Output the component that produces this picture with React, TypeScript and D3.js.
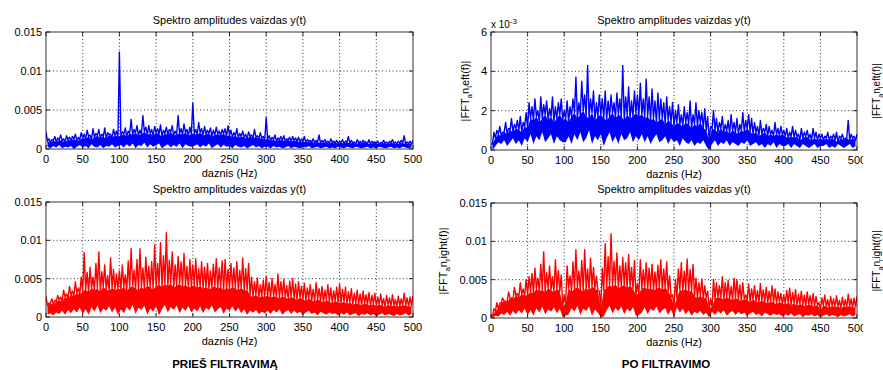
import React from "react";
import * as d3 from "d3";

// Spectrum amplitudes, in units of 1e-3.
// Peaks: local maxima at 0,4,8,...,500 Hz.
// Cores: top of the dense band at 2,6,...,498 Hz.  Floors: bottom of the dense band at 2,6,...,498 Hz.
const tlPeaks = [
  2.2,1.3,1.2,1.6,1.4,1.8,1.3,1.7,1.5,1.6,1.9,1.5,2.1,
  1.9,2.4,1.8,2.6,2.0,2.5,1.9,2.7,2.1,1.9,2.5,2.3,
  12.4,
  2.2,2.7,2.3,3.8,2.5,3.0,2.4,4.3,2.8,3.0,2.5,2.9,
  2.6,3.1,2.4,2.8,2.5,3.0,2.3,4.3,2.6,3.2,2.5,2.8,
  5.9,
  2.5,3.4,2.6,2.9,2.4,2.7,2.4,2.8,2.3,2.5,2.6,3.0,
  2.4,2.1,2.6,2.0,2.3,1.9,2.2,1.8,2.5,1.7,2.1,1.6,
  4.0,
  1.7,1.5,1.8,1.4,1.6,1.7,1.3,1.5,1.6,1.4,1.5,1.3,
  1.6,1.2,1.1,1.3,1.1,1.8,1.1,1.2,1.0,1.3,1.0,1.1,
  1.0,1.2,1.0,1.6,1.1,0.9,1.2,1.0,1.1,0.9,1.2,1.0,0.9,
  1.0,0.8,1.1,0.9,1.0,1.2,0.9,1.0,1.1,1.7,0.9,1.0,1.1,
];
const tlCores = [
  1.0,0.8,1.1,0.9,1.2,1.0,0.9,1.2,1.1,1.3,1.0,1.2,1.4,1.3,1.6,1.2,1.5,1.7,1.4,1.6,1.3,1.8,1.5,1.7,1.6,
  1.7,1.9,1.6,2.0,1.8,2.1,1.7,1.9,2.2,1.8,2.0,1.7,2.1,1.9,1.6,2.0,1.8,2.2,1.7,1.9,2.0,1.8,2.1,1.7,1.9,
  2.0,1.8,2.1,1.7,1.9,2.0,1.6,1.8,1.9,1.7,2.0,1.6,1.8,1.5,1.7,1.4,1.6,1.5,1.3,1.6,1.4,1.5,1.3,1.4,1.2,
  1.3,1.1,1.2,1.0,1.2,1.1,1.0,1.2,0.9,1.1,1.0,0.9,1.0,0.8,1.0,0.9,0.8,0.9,0.7,0.9,0.8,0.7,0.9,0.8,0.7,
  0.8,0.7,0.9,0.7,0.8,0.6,0.8,0.7,0.9,0.7,0.6,0.8,0.7,0.6,0.8,0.7,0.6,0.8,0.7,0.6,0.7,0.8,0.6,0.7,0.6,
];
const tlFloors = [
  0.3,0.1,0.4,0.2,0.5,0.1,0.3,0.2,0.4,0.0,0.3,0.5,0.2,0.4,0.1,0.6,0.3,0.2,0.5,0.1,0.4,0.3,0.6,0.2,0.4,
  0.5,0.2,0.6,0.3,0.7,0.1,0.5,0.4,0.8,0.2,0.6,0.3,0.5,0.7,0.1,0.4,0.6,0.2,0.5,0.3,0.7,0.1,0.6,0.4,0.3,
  0.4,0.6,0.2,0.5,0.3,0.7,0.1,0.4,0.6,0.2,0.5,0.3,0.4,0.1,0.5,0.3,0.2,0.4,0.1,0.3,0.5,0.2,0.4,0.1,0.3,
  0.3,0.1,0.4,0.2,0.3,0.1,0.2,0.4,0.1,0.3,0.2,0.1,0.3,0.2,0.4,0.1,0.2,0.3,0.1,0.2,0.3,0.1,0.2,0.1,0.3,
  0.2,0.1,0.3,0.2,0.1,0.3,0.2,0.1,0.2,0.3,0.1,0.2,0.1,0.3,0.2,0.1,0.2,0.3,0.1,0.2,0.1,0.3,0.2,0.1,0.2,
];

const trPeaks = [
  0.3,0.9,1.0,1.2,0.9,1.4,1.1,1.6,1.3,1.5,1.7,1.4,1.9,
  2.4,2.2,2.6,2.0,2.7,2.3,2.5,2.1,2.7,2.2,2.4,2.6,
  2.0,
  2.5,2.2,2.6,3.7,2.4,3.5,2.8,4.3,2.6,3.0,2.4,2.8,
  2.6,3.0,2.5,2.8,2.4,2.9,2.6,4.3,2.7,3.2,2.5,3.0,
  2.8,
  3.4,2.6,3.6,2.7,3.1,2.5,2.9,2.6,2.4,2.7,2.2,2.4,
  2.0,2.3,1.8,2.2,1.9,2.5,1.8,2.4,2.0,1.9,2.1,1.7,
  1.2,
  2.0,1.6,1.4,1.7,1.3,1.5,1.8,1.4,1.6,1.3,1.9,1.5,
  1.8,1.6,1.4,1.2,1.5,1.1,1.3,1.2,1.0,1.4,1.1,1.2,
  1.0,1.1,0.9,1.2,1.0,0.8,1.1,0.9,1.0,0.8,1.1,0.9,0.8,
  0.8,0.7,0.9,0.7,0.8,0.9,0.7,0.8,0.6,1.5,0.8,0.7,0.8,
];
const trCores = [
  0.3,0.6,0.8,0.7,0.9,0.8,1.0,0.9,1.1,1.0,0.9,1.2,1.1,1.6,1.5,1.7,1.4,1.6,1.8,1.5,1.7,1.4,1.6,1.8,1.5,
  1.6,1.4,1.7,1.9,1.6,1.8,2.0,1.7,1.6,1.9,1.5,1.7,1.8,1.6,1.5,1.7,1.9,1.6,1.8,1.7,1.5,1.8,1.6,1.7,1.9,
  1.7,1.8,1.6,1.7,1.5,1.6,1.4,1.5,1.6,1.3,1.5,1.4,1.2,1.4,1.3,1.2,1.4,1.3,1.1,1.3,1.2,1.4,1.1,1.0,0.5,
  1.1,1.0,0.9,1.1,0.9,1.0,0.8,1.0,0.9,0.8,1.0,0.9,1.1,0.9,0.8,0.9,0.7,0.8,0.9,0.7,0.8,0.7,0.8,0.7,0.8,
  0.7,0.6,0.7,0.6,0.7,0.5,0.6,0.7,0.6,0.5,0.6,0.5,0.6,0.5,0.6,0.5,0.6,0.5,0.4,0.6,0.5,0.6,0.5,0.6,0.5,
];
const trFloors = [
  0.0,0.2,0.4,0.3,0.5,0.2,0.4,0.6,0.3,0.5,0.2,0.6,0.4,0.8,0.3,0.7,0.5,0.9,0.4,0.6,0.8,0.3,0.7,0.5,0.4,
  0.4,0.7,0.3,0.8,0.5,0.9,0.4,0.6,1.0,0.3,0.7,0.5,0.8,0.2,0.6,0.9,0.4,0.7,0.3,0.8,0.5,0.6,0.9,0.4,0.7,
  0.5,0.8,0.4,0.7,0.3,0.6,0.8,0.4,0.5,0.7,0.3,0.6,0.4,0.5,0.2,0.6,0.4,0.3,0.5,0.2,0.4,0.3,0.5,0.2,0.0,
  0.3,0.5,0.2,0.4,0.3,0.5,0.2,0.4,0.3,0.2,0.4,0.3,0.5,0.2,0.3,0.4,0.2,0.3,0.1,0.3,0.2,0.4,0.1,0.3,0.2,
  0.2,0.3,0.1,0.3,0.2,0.1,0.3,0.2,0.1,0.2,0.3,0.1,0.2,0.2,0.3,0.1,0.2,0.1,0.3,0.2,0.1,0.2,0.3,0.1,0.2,
];

const blPeaks = [
  2.7,1.8,2.4,2.2,2.8,2.6,3.5,3.0,4.0,3.4,4.6,3.8,5.2,
  8.4,5.8,6.5,5.2,7.0,8.5,5.9,6.8,5.4,7.7,6.2,5.6,
  6.0,
  6.8,5.5,7.3,8.9,6.1,7.5,8.9,6.4,7.8,6.6,7.2,9.4,
  7.0,9.7,8.0,11.0,7.4,8.5,6.8,7.9,7.2,8.3,6.6,7.5,
  6.8,
  7.6,6.3,7.2,6.5,7.0,6.0,6.9,7.6,6.4,7.3,7.5,6.2,
  7.0,6.4,7.2,6.1,7.7,6.3,7.0,5.2,4.6,5.1,4.2,4.8,
  5.3,
  4.5,5.0,4.2,5.6,4.6,4.9,4.1,4.7,5.0,4.3,4.6,4.0,
  4.4,3.8,4.2,3.6,4.5,3.7,4.0,3.5,4.2,3.8,3.4,3.9,
  4.3,3.6,3.9,3.3,3.7,3.1,3.5,3.0,3.4,2.9,3.2,2.8,3.1,
  2.6,3.0,2.4,2.8,2.5,2.9,2.3,2.7,2.4,3.1,2.5,2.6,2.8,
];
const blCores = [
  1.5,1.8,1.6,2.0,2.2,2.0,2.6,2.4,2.9,2.7,3.1,2.9,3.3,3.6,3.2,3.8,3.5,3.7,3.3,3.9,3.6,3.4,3.8,3.5,3.7,
  3.6,3.9,3.4,3.8,4.0,3.7,3.5,3.9,3.6,4.1,3.8,3.6,4.0,4.2,3.9,4.3,4.0,4.4,3.8,4.1,4.3,3.9,4.2,3.8,4.0,
  4.1,3.8,4.0,3.7,3.9,3.6,3.8,4.0,3.7,3.9,3.5,3.8,3.6,3.9,3.7,3.5,3.8,3.4,3.6,2.8,2.6,2.9,2.5,2.7,2.6,
  2.8,2.5,2.7,2.6,2.4,2.7,2.5,2.3,2.6,2.4,2.2,2.5,2.3,2.1,2.4,2.2,2.0,2.3,2.1,1.9,2.2,2.0,1.8,2.1,1.9,
  1.8,2.0,1.7,1.9,1.6,1.8,1.7,1.5,1.8,1.6,1.5,1.7,1.4,1.6,1.5,1.3,1.6,1.4,1.5,1.3,1.5,1.4,1.6,1.3,1.5,
];
const blFloors = [
  0.3,0.5,0.2,0.6,0.4,0.8,0.3,0.9,0.5,1.0,0.6,1.2,0.4,1.0,0.3,1.3,0.7,1.5,0.5,1.1,0.8,1.4,0.6,1.2,0.3,
  1.0,0.5,1.3,0.8,1.6,0.4,1.2,0.9,1.5,0.3,1.1,0.7,1.4,0.2,1.0,1.6,0.6,1.3,0.9,1.5,0.5,1.2,0.8,1.4,0.6,
  1.1,0.7,1.4,0.5,1.2,0.9,1.5,0.6,1.0,1.3,0.4,1.1,0.8,1.4,0.7,1.2,0.5,1.0,0.3,0.8,0.6,0.9,0.4,0.7,0.5,
  0.8,0.4,0.9,0.6,1.0,0.3,0.7,0.9,0.4,0.8,0.5,0.7,0.3,0.6,0.8,0.4,0.6,0.2,0.7,0.5,0.3,0.6,0.4,0.5,0.2,
  0.5,0.3,0.6,0.2,0.4,0.5,0.1,0.4,0.3,0.5,0.2,0.4,0.1,0.3,0.5,0.2,0.4,0.3,0.1,0.4,0.2,0.3,0.5,0.2,0.4,
];

const brPeaks = [
  0.3,1.2,2.0,1.9,2.6,2.2,3.4,2.6,4.0,3.2,4.6,3.8,5.0,
  5.4,5.8,6.5,5.2,7.0,8.6,5.9,6.8,5.4,7.6,6.2,5.6,
  3.0,
  6.8,5.5,7.3,8.9,6.1,7.5,8.9,6.4,7.8,6.6,5.5,3.5,
  6.5,9.7,8.0,11.0,7.4,8.5,6.8,7.9,7.2,8.3,6.6,7.5,
  4.5,
  7.6,6.3,7.2,6.5,7.0,6.0,6.9,7.6,6.4,7.3,5.5,3.0,
  5.0,6.4,7.2,6.1,7.7,6.3,7.0,5.2,4.6,5.1,4.2,3.5,
  2.5,
  5.0,4.6,4.2,5.4,4.6,4.9,4.1,5.2,5.0,4.3,4.6,3.0,
  4.4,3.8,4.2,3.6,4.5,3.7,4.0,3.5,4.2,3.8,3.4,3.2,
  3.0,3.6,3.9,3.3,3.7,3.1,3.5,3.0,3.4,2.9,3.2,2.8,2.0,
  2.6,3.0,2.4,2.8,2.5,2.9,2.3,2.7,2.4,3.1,2.5,2.6,2.8,
];
const brCores = [
  0.3,0.9,1.2,2.0,2.2,2.0,2.6,2.4,2.9,2.7,3.1,2.9,3.0,3.4,3.2,3.8,3.5,3.7,3.3,3.9,3.6,3.4,3.8,3.5,1.5,
  1.8,3.9,3.4,3.8,4.0,3.7,3.5,3.9,3.6,4.1,3.8,3.6,1.2,3.6,3.9,4.3,4.0,4.4,3.8,4.1,4.3,3.9,4.2,3.8,3.0,
  3.2,3.8,4.0,3.7,3.9,3.6,3.8,4.0,3.7,3.9,3.5,2.8,1.5,2.6,3.7,3.5,3.8,3.4,3.6,2.8,2.6,2.9,2.5,2.7,1.2,
  1.5,2.5,2.7,2.6,2.4,2.7,2.5,2.3,2.6,2.4,2.2,2.5,2.3,2.1,2.4,2.2,2.0,2.3,2.1,1.9,2.2,2.0,1.8,2.1,1.9,
  1.8,2.0,1.7,1.9,1.6,1.8,1.7,1.5,1.8,1.6,1.5,1.7,1.0,1.6,1.5,1.3,1.6,1.4,1.5,1.3,1.5,1.4,1.6,1.3,1.5,
];
const brFloors = [
  0.0,0.3,0.2,0.6,0.4,0.8,0.3,0.9,0.5,1.0,0.6,1.2,0.4,1.0,0.3,1.3,0.7,1.5,0.5,1.1,0.8,1.4,0.6,1.2,0.1,
  0.3,0.5,1.3,0.8,1.6,0.4,1.2,0.9,1.5,0.3,1.1,0.7,0.1,0.2,1.0,1.6,0.6,1.3,0.9,1.5,0.5,1.2,0.8,1.4,0.3,
  0.4,0.7,1.4,0.5,1.2,0.9,1.5,0.6,1.0,1.3,0.4,1.1,0.1,1.4,0.7,1.2,0.5,1.0,0.3,0.8,0.6,0.9,0.4,0.7,0.1,
  0.8,0.4,0.9,0.6,1.0,0.3,0.7,0.9,0.4,0.8,0.5,0.7,0.3,0.6,0.8,0.4,0.6,0.2,0.7,0.5,0.3,0.6,0.4,0.5,0.2,
  0.5,0.3,0.6,0.2,0.4,0.5,0.1,0.4,0.3,0.5,0.2,0.4,0.1,0.3,0.5,0.2,0.4,0.3,0.1,0.4,0.2,0.3,0.5,0.2,0.4,
];

const PEAK_STEP_HZ = 4;
const xTicks = [0, 50, 100, 150, 200, 250, 300, 350, 400, 450, 500];
const yTicksWide = [0, 5, 10, 15];
const yTickLabelsWide = ["0", "0.005", "0.01", "0.015"];
const yTicksNarrow = [0, 2, 4, 6];
const yTickLabelsNarrow = ["0", "2", "4", "6"];

const TITLE = "Spektro amplitudes vaizdas y(t)";
const XLABEL = "daznis (Hz)";
const FONT = "'Liberation Sans', Arial, Helvetica, sans-serif";

type Pt = [number, number];

function spikeLine(peaks: number[], cores: number[]): Pt[] {
  const pts: Pt[] = [];
  peaks.forEach((p, i) => {
    pts.push([i * PEAK_STEP_HZ, p]);
    if (i < cores.length) pts.push([i * PEAK_STEP_HZ + PEAK_STEP_HZ / 2, cores[i]]);
  });
  return pts;
}

type PanelProps = {
  id: string;
  x0: number; x1: number; y0: number; y1: number;
  peaks: number[]; cores: number[]; floors: number[];
  yMax: number; yTicks: number[]; yLabels: string[];
  color: string;
  clipLastX?: number;
  titleY: number;
};

function Panel(p: PanelProps) {
  const x = d3.scaleLinear().domain([0, 500]).range([p.x0, p.x1]);
  const y = d3.scaleLinear().domain([0, p.yMax]).range([p.y1, p.y0]);
  const line = d3.line<Pt>().x(d => x(d[0])).y(d => y(d[1]));
  const band = d3.area<number>()
    .x((_, i) => x(i * PEAK_STEP_HZ + PEAK_STEP_HZ / 2))
    .y0((_, i) => y(p.floors[i]))
    .y1(d => y(d));
  const tk = 4;
  return (
    <g>
      <defs>
        <clipPath id={"clip" + p.id}>
          <rect x={p.x0} y={p.y0} width={p.x1 - p.x0} height={p.y1 - p.y0} />
        </clipPath>
        {p.clipLastX !== undefined && (
          <clipPath id={"lbl" + p.id}>
            <rect x={0} y={0} width={p.clipLastX} height={370} />
          </clipPath>
        )}
      </defs>
      <rect x={p.x0} y={p.y0} width={p.x1 - p.x0} height={p.y1 - p.y0} fill="#fff" />
      {xTicks.slice(1, -1).map(t => (
        <line key={"gx" + t} x1={x(t)} x2={x(t)} y1={p.y0} y2={p.y1} stroke="#000" strokeWidth={0.8} strokeDasharray="1,2.5" />
      ))}
      {p.yTicks.slice(1, -1).map(t => (
        <line key={"gy" + t} x1={p.x0} x2={p.x1} y1={y(t)} y2={y(t)} stroke="#000" strokeWidth={0.8} strokeDasharray="1,2.5" />
      ))}
      <g clipPath={`url(#clip${p.id})`}>
        <path d={band(p.cores) || ""} fill={p.color} stroke="none" />
        <path d={line(spikeLine(p.peaks, p.cores)) || ""} fill="none" stroke={p.color} strokeWidth={1.4} strokeLinejoin="round" />
      </g>
      {xTicks.map(t => (
        <g key={"tx" + t}>
          <line x1={x(t)} x2={x(t)} y1={p.y1} y2={p.y1 - tk} stroke="#000" strokeWidth={0.8} />
          <line x1={x(t)} x2={x(t)} y1={p.y0} y2={p.y0 + tk} stroke="#000" strokeWidth={0.8} />
          <text x={x(t)} y={p.y1 + 14} fontSize={11} textAnchor="middle" fontFamily={FONT}
            clipPath={p.clipLastX !== undefined && t === 500 ? `url(#lbl${p.id})` : undefined}>{t}</text>
        </g>
      ))}
      {p.yTicks.map((t, i) => (
        <g key={"ty" + t}>
          <line x1={p.x0} x2={p.x0 + tk} y1={y(t)} y2={y(t)} stroke="#000" strokeWidth={0.8} />
          <line x1={p.x1} x2={p.x1 - tk} y1={y(t)} y2={y(t)} stroke="#000" strokeWidth={0.8} />
          <text x={p.x0 - 4} y={y(t) + 4} fontSize={11} textAnchor="end" fontFamily={FONT}>{p.yLabels[i]}</text>
        </g>
      ))}
      <rect x={p.x0} y={p.y0} width={p.x1 - p.x0} height={p.y1 - p.y0} fill="none" stroke="#000" strokeWidth={0.8} />
      <text x={(p.x0 + p.x1) / 2} y={p.titleY} fontSize={11} textAnchor="middle" fontFamily={FONT}>{TITLE}</text>
      <text x={(p.x0 + p.x1) / 2} y={p.y1 + 28} fontSize={11} textAnchor="middle" fontFamily={FONT}>{XLABEL}</text>
    </g>
  );
}

function FftLabel({ x, y, sub, size = 11 }: { x: number; y: number; sub: string; size?: number }) {
  const rest = sub === "l" ? "eft(f)|" : "ight(f)|";
  return (
    <text transform={`translate(${x},${y}) rotate(-90)`} fontSize={size} textAnchor="middle" fontFamily={FONT}>
      |FFT<tspan dy={3} fontSize={size * 0.72}>a</tspan><tspan dy={-3}>n</tspan><tspan dy={3} fontSize={size * 0.72}>{sub}</tspan><tspan dy={-3}>{rest}</tspan>
    </text>
  );
}

export default function App() {
  return (
    <svg width={883} height={370} style={{ position: "absolute", left: 0, top: 0, background: "#fff" }}>
      <rect width={883} height={370} fill="#fff" />
      <Panel id="tl" x0={46} x1={413} y0={32} y1={149} peaks={tlPeaks} cores={tlCores} floors={tlFloors}
        yMax={15} yTicks={yTicksWide} yLabels={yTickLabelsWide} color="#0000ff" titleY={24} />
      <Panel id="tr" x0={491} x1={857} y0={32} y1={150} peaks={trPeaks} cores={trCores} floors={trFloors}
        yMax={6} yTicks={yTicksNarrow} yLabels={yTickLabelsNarrow} color="#0000ff" clipLastX={863} titleY={24} />
      <Panel id="bl" x0={46} x1={413} y0={202} y1={317} peaks={blPeaks} cores={blCores} floors={blFloors}
        yMax={15} yTicks={yTicksWide} yLabels={yTickLabelsWide} color="#ff0000" titleY={193} />
      <Panel id="br" x0={491} x1={857} y0={203} y1={318} peaks={brPeaks} cores={brCores} floors={brFloors}
        yMax={15} yTicks={yTicksWide} yLabels={yTickLabelsWide} color="#ff0000" clipLastX={863} titleY={193} />
      <text x={491} y={28} fontSize={10} fontFamily={FONT}>x 10<tspan dy={-4} fontSize={8}>-3</tspan></text>
      <FftLabel x={469} y={91} sub="l" />
      <FftLabel x={880} y={91} sub="l" size={10} />
      <FftLabel x={447} y={261} sub="r" />
      <FftLabel x={880} y={261} sub="r" size={10} />
      <text x={225} y={368} fontSize={11.5} fontWeight="bold" textAnchor="middle" fontFamily={FONT}>PRIEŠ FILTRAVIMĄ</text>
      <text x={666} y={368} fontSize={11.5} fontWeight="bold" textAnchor="middle" fontFamily={FONT}>PO FILTRAVIMO</text>
    </svg>
  );
}
